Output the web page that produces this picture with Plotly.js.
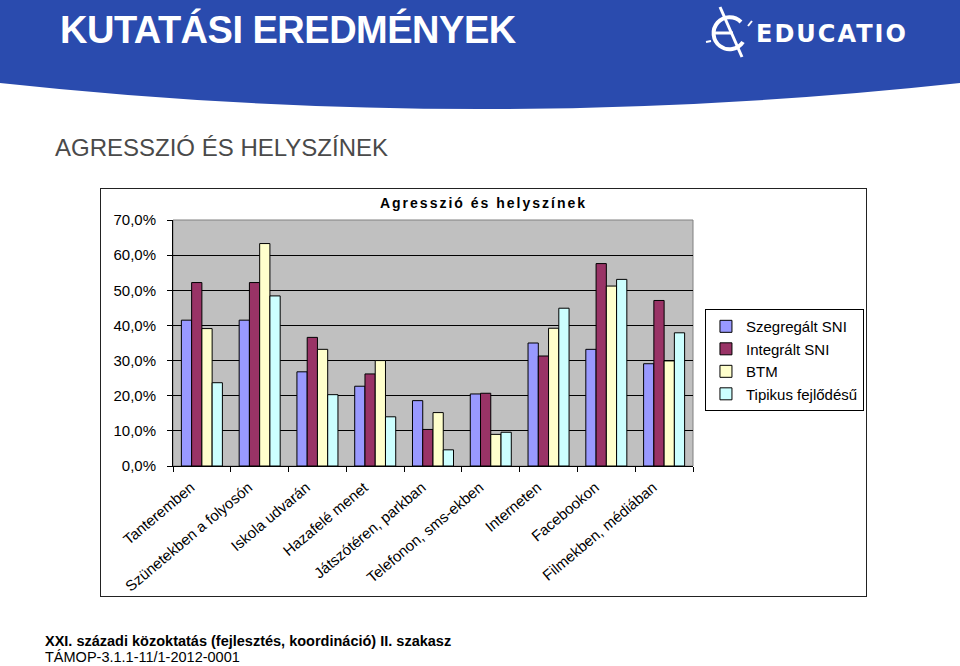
<!DOCTYPE html>
<html>
<head>
<meta charset="utf-8">
<script src="https://cdn.plot.ly/plotly-3.0.1.min.js"></script>
<style>
  body { margin: 0; width: 960px; height: 666px; background: #fff; position: relative; overflow: hidden;
         font-family: Arial, "Liberation Sans", sans-serif; }
  #band { position: absolute; left: 0; top: 0; }
  #mainTitle { position: absolute; left: 60px; top: 9px; color: #fff; font-size: 38px; font-weight: bold;
               letter-spacing: -0.5px; white-space: nowrap; }
  #subTitle { position: absolute; left: 55px; top: 134px; color: #4a4a4a; font-size: 24px; white-space: nowrap; }
  #chartBox { position: absolute; left: 100px; top: 188px; width: 765px; height: 407px; border: 1px solid #222; }
  #chart { width: 765px; height: 407px; }
  #foot1 { position: absolute; left: 45px; top: 634px; font-size: 14.5px; line-height: 14px; font-weight: bold; white-space: nowrap; }
  #foot2 { position: absolute; left: 45px; top: 650px; font-size: 14.5px; line-height: 14px; white-space: nowrap; }
  .gtitle { letter-spacing: 2px; }
</style>
</head>
<body>

<svg id="band" width="960" height="140">
  <path d="M0,0 H960 V83 Q480,135 0,83 Z" fill="#2a4bae"/>
  <!-- logo -->
  <path d="M741,22 A16,16 0 1 0 743,42" fill="none" stroke="#fff" stroke-width="4"/>
  <line x1="713" y1="33" x2="733" y2="33" stroke="#fff" stroke-width="3"/>
  <line x1="720" y1="7" x2="742" y2="57" stroke="#fff" stroke-width="3"/>
  <line x1="706" y1="42" x2="711" y2="41" stroke="#fff" stroke-width="2"/>
  <line x1="748" y1="26" x2="752" y2="21" stroke="#fff" stroke-width="2"/>
  <text x="756" y="42" fill="#fff" font-family="DejaVu Sans" font-weight="bold" font-size="24" letter-spacing="2">EDUCATIO</text>
</svg>

<div id="mainTitle">KUTATÁSI EREDMÉNYEK</div>
<div id="subTitle">AGRESSZIÓ ÉS HELYSZÍNEK</div>

<div id="chartBox"><div id="chart"></div></div>

<div id="foot1">XXI. századi közoktatás (fejlesztés, koordináció) II. szakasz</div>
<div id="foot2">TÁMOP-3.1.1-11/1-2012-0001</div>

<script>
// helyszinek
const places = ["Tanteremben", "Szünetekben a folyosón", "Iskola udvarán", "Hazafelé menet",
    "Játszótéren, parkban", "Telefonon, sms-ekben", "Interneten", "Facebookon", "Filmekben, médiában"];

const groupNames = ["Szegregált SNI", "Integrált SNI", "BTM", "Tipikus fejlődésű"];

// percent values
const szegregalt = [41.5, 41.5, 26.8, 22.7, 18.6, 20.5, 35.0, 33.2, 29.1];
const integralt = [52.2, 52.2, 36.6, 26.2, 10.4, 20.7, 31.3, 57.6, 47.1];
const btm = [39.1, 63.3, 33.2, 30.0, 15.2, 9.0, 39.2, 51.2, 29.9];
const tipikus = [23.7, 48.4, 20.3, 14.0, 4.6, 9.6, 44.9, 53.1, 37.9];

const yTicks = [0, 10, 20, 30, 40, 50, 60, 70];
const yTickText = yTicks.map(v => v.toFixed(1).replace('.', ',') + '%');

const colors = ["#9999ff", "#993366", "#ffffcc", "#ccffff"];

function makeBar(values, i) {
    return {
        x: places,
        y: values,
        type: 'bar',
        name: groupNames[i],
        marker: {color: colors[i], line: {color: '#000', width: 1}}
    };
}

var data = [makeBar(szegregalt, 0), makeBar(integralt, 1), makeBar(btm, 2), makeBar(tipikus, 3)];

var fontFam = 'Arial, "Liberation Sans", sans-serif';

var layout = {
    width: 765,
    height: 407,
    margin: {l: 72, r: 173, t: 31, b: 130},
    paper_bgcolor: '#fff',
    plot_bgcolor: '#c0c0c0',
    font: {family: fontFam, size: 15, color: '#000'},
    title: {
        text: '<b>Agresszió és helyszínek</b>',
        font: {family: fontFam, size: 14, color: '#000'},
        x: 0.5, xref: 'container', xanchor: 'center',
        y: 0.966, yref: 'container', yanchor: 'middle'
    },
    barmode: 'group',
    bargap: 0.29,
    bargroupgap: 0,
    showlegend: true,
    legend: {
        xref: 'container', yref: 'container',
        x: 0.7895, xanchor: 'left',
        y: 0.705, yanchor: 'top',
        bgcolor: '#fff',
        bordercolor: '#000',
        borderwidth: 1,
        font: {family: fontFam, size: 15, color: '#000'},
        traceorder: 'normal'
    },
    xaxis: {
        type: 'category',
        tickson: 'boundaries',
        ticks: 'outside',
        ticklen: 5,
        tickcolor: '#000',
        tickangle: -40,
        ticklabelstandoff: 6,
        ticklabelshift: -11,
        tickfont: {size: 15},
        showline: true,
        linecolor: '#000',
        linewidth: 1,
        showgrid: false
    },
    yaxis: {
        range: [0, 70],
        tickvals: yTicks,
        ticktext: yTickText,
        ticks: 'outside',
        ticklen: 5,
        tickcolor: '#000',
        ticklabelstandoff: 8,
        tickfont: {size: 15},
        showline: true,
        linecolor: '#000',
        linewidth: 1,
        showgrid: true,
        gridcolor: '#000',
        gridwidth: 1,
        zeroline: false
    },
    shapes: [{
        type: 'rect', xref: 'paper', yref: 'paper', x0: 0, x1: 1, y0: 0, y1: 1,
        line: {color: '#808080', width: 1}, layer: 'below'
    }]
};

Plotly.newPlot("chart", data, layout, {displayModeBar: false, staticPlot: true});
</script>
</body>
</html>
